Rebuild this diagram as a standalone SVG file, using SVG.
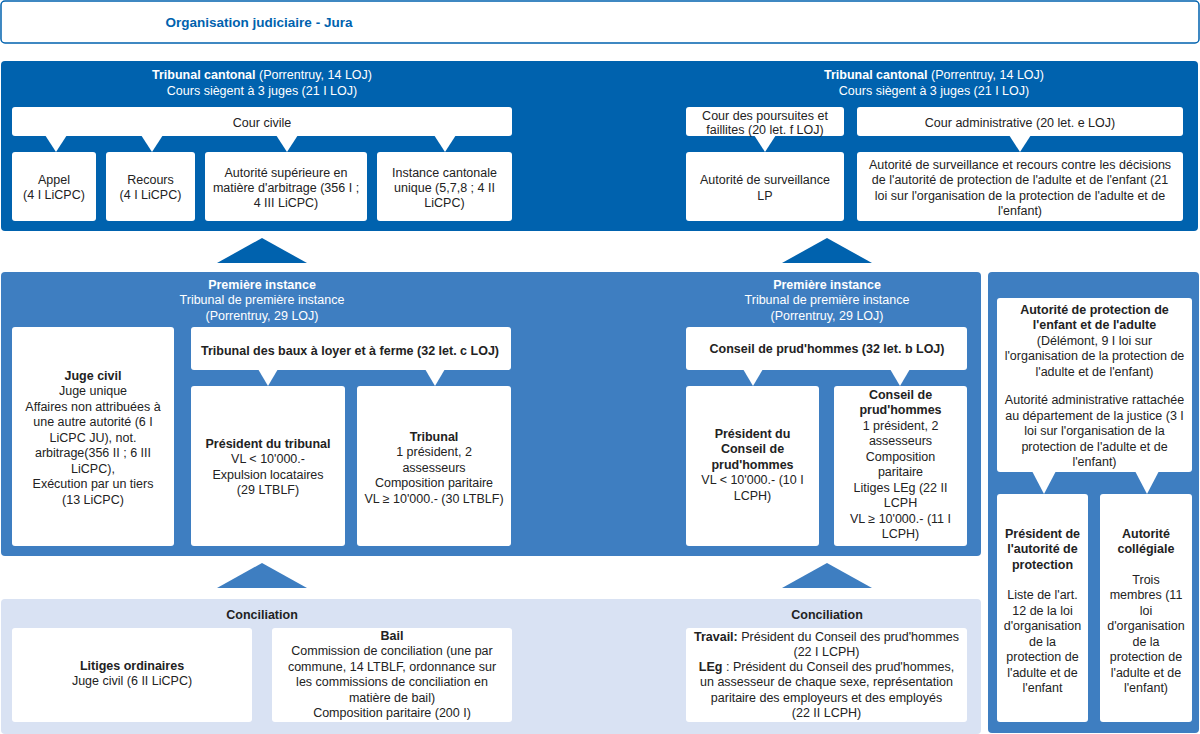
<svg xmlns="http://www.w3.org/2000/svg" width="1200" height="734" viewBox="0 0 1200 734">
<style>
text{font-family:"Liberation Sans",Arial,sans-serif;font-size:12.5px;text-anchor:middle;fill:#222}
.w{fill:#fff}
.b{font-weight:bold}
.box{fill:#fff}
.dark{fill:#0062AE}
.mid{fill:#3E7EC1}
.light{fill:#D9E2F3}
</style>
<rect width="1200" height="734" fill="#fff"/>
<g id="title">
<rect x="1" y="1" width="1198" height="42" rx="4" fill="#fff" stroke="#0062AE" stroke-width="1.5"/>
<text x="259" y="27" class="b" style="font-size:13.5px;fill:#0062AE">Organisation judiciaire - Jura</text>
</g>
<g id="sections">
<rect class="dark" x="1" y="61" width="1197" height="170" rx="4"/>
<rect class="mid" x="1" y="272" width="980" height="284" rx="4"/>
<rect class="mid" x="988" y="272" width="211" height="461" rx="4"/>
<rect class="light" x="1" y="599" width="980" height="135" rx="4"/>
</g>
<g id="connectors">
<polygon class="dark" points="217,263 307,263 262,238"/>
<polygon class="dark" points="782,263 872,263 827,238"/>
<polygon class="mid" points="217,588 307,588 262,563"/>
<polygon class="mid" points="782,588 872,588 827,563"/>
<g class="box">
<polygon points="45,135 67,135 56,152"/>
<polygon points="141,135 163,135 152,152"/>
<polygon points="276,135 298,135 287,152"/>
<polygon points="434,135 456,135 445,152"/>
<polygon points="754,135 776,135 765,152"/>
<polygon points="1009,135 1031,135 1020,152"/>
<polygon points="258,369 278,369 268,386"/>
<polygon points="425,369 445,369 435,386"/>
<polygon points="743,369 763,369 753,386"/>
<polygon points="890,369 910,369 900,386"/>
<polygon points="1032,471 1056,471 1044,494"/>
<polygon points="1135,471 1159,471 1147,494"/>
</g>
</g>
<g id="tc-left-head">
<text x="262" y="79" class="w"><tspan class="b">Tribunal cantonal</tspan> (Porrentruy, 14 LOJ)</text>
<text x="262" y="95" class="w">Cours siègent à 3 juges (21 I LOJ)</text>
</g>
<g id="tc-right-head">
<text x="934" y="79" class="w"><tspan class="b">Tribunal cantonal</tspan> (Porrentruy, 14 LOJ)</text>
<text x="934" y="95" class="w">Cours siègent à 3 juges (21 I LOJ)</text>
</g>
<g id="cour-civile">
<rect class="box" x="12" y="107" width="500" height="29" rx="3"/>
<text x="262" y="127">Cour civile</text>
</g>
<g id="appel">
<rect class="box" x="12" y="152" width="84" height="69" rx="3"/>
<text x="54" y="184">Appel</text>
<text x="54" y="199">(4 I LiCPC)</text>
</g>
<g id="recours">
<rect class="box" x="106" y="152" width="89" height="69" rx="3"/>
<text x="150.5" y="184">Recours</text>
<text x="150.5" y="199">(4 I LiCPC)</text>
</g>
<g id="autorite-superieure">
<rect class="box" x="205" y="152" width="162" height="69" rx="3"/>
<text x="286" y="176.5">Autorité supérieure en</text>
<text x="286" y="191.5">matière d'arbitrage (356 I ;</text>
<text x="286" y="207">4 III LiCPC)</text>
</g>
<g id="instance-cantonale">
<rect class="box" x="377" y="152" width="135" height="69" rx="3"/>
<text x="444.5" y="176.5">Instance cantonale</text>
<text x="444.5" y="191.5">unique (5,7,8 ; 4 II</text>
<text x="444.5" y="207">LiCPC)</text>
</g>
<g id="cour-poursuites">
<rect class="box" x="686" y="107" width="158" height="29" rx="3"/>
<text x="765" y="119.5">Cour des poursuites et</text>
<text x="765" y="134">faillites (20 let. f LOJ)</text>
</g>
<g id="autorite-surveillance-lp">
<rect class="box" x="686" y="152" width="158" height="69" rx="3"/>
<text x="765" y="183.5">Autorité de surveillance</text>
<text x="765" y="199.5">LP</text>
</g>
<g id="cour-administrative">
<rect class="box" x="857" y="107" width="326" height="29" rx="3"/>
<text x="1020" y="127">Cour administrative (20 let. e LOJ)</text>
</g>
<g id="autorite-surveillance-recours">
<rect class="box" x="857" y="152" width="326" height="69" rx="3"/>
<text x="1020" y="168.5">Autorité de surveillance et recours contre les décisions</text>
<text x="1020" y="184">de l'autorité de protection de l'adulte et de l'enfant (21</text>
<text x="1020" y="199.5">loi sur l'organisation de la protection de l'adulte et de</text>
<text x="1020" y="215">l'enfant)</text>
</g>
<g id="pi-left-head">
<text x="262" y="288.5" class="w b">Première instance</text>
<text x="262" y="304" class="w">Tribunal de première instance</text>
<text x="262" y="319.5" class="w">(Porrentruy, 29 LOJ)</text>
</g>
<g id="pi-right-head">
<text x="827" y="288.5" class="w b">Première instance</text>
<text x="827" y="304" class="w">Tribunal de première instance</text>
<text x="827" y="319.5" class="w">(Porrentruy, 29 LOJ)</text>
</g>
<g id="juge-civil">
<rect class="box" x="12" y="327" width="162" height="219" rx="3"/>
<text x="93" y="379.5" class="b">Juge civil</text>
<text x="93" y="395">Juge unique</text>
<text x="93" y="410.5">Affaires non attribuées à</text>
<text x="93" y="426">une autre autorité (6 I</text>
<text x="93" y="441.5">LiCPC JU), not.</text>
<text x="93" y="457">arbitrage(356 II ; 6 III</text>
<text x="93" y="472.5">LiCPC),</text>
<text x="93" y="488">Exécution par un tiers</text>
<text x="93" y="503.5">(13 LiCPC)</text>
</g>
<g id="tribunal-baux">
<rect class="box" x="191" y="327" width="320" height="43" rx="3"/>
<text x="350" y="354.5" class="b">Tribunal des baux à loyer et à ferme (32 let. c LOJ)</text>
</g>
<g id="president-tribunal">
<rect class="box" x="191" y="386" width="154" height="160" rx="3"/>
<text x="268" y="447.5" class="b">Président du tribunal</text>
<text x="268" y="463">VL &lt; 10'000.-</text>
<text x="268" y="478.5">Expulsion locataires</text>
<text x="268" y="494">(29 LTBLF)</text>
</g>
<g id="tribunal">
<rect class="box" x="357" y="386" width="154" height="160" rx="3"/>
<text x="434" y="440.5" class="b">Tribunal</text>
<text x="434" y="456">1 président, 2</text>
<text x="434" y="471.5">assesseurs</text>
<text x="434" y="487">Composition paritaire</text>
<text x="434" y="502.5">VL ≥ 10'000.- (30 LTBLF)</text>
</g>
<g id="conseil-prudhommes-head">
<rect class="box" x="686" y="327" width="281" height="43" rx="3"/>
<text x="827" y="352.5" class="b">Conseil de prud'hommes (32 let. b LOJ)</text>
</g>
<g id="president-conseil">
<rect class="box" x="686" y="386" width="133" height="160" rx="3"/>
<text x="752.5" y="437.5" class="b">Président du</text>
<text x="752.5" y="453" class="b">Conseil de</text>
<text x="752.5" y="468.5" class="b">prud'hommes</text>
<text x="752.5" y="484">VL &lt; 10'000.- (10 I</text>
<text x="752.5" y="499.5">LCPH)</text>
</g>
<g id="conseil-prudhommes">
<rect class="box" x="834" y="386" width="133" height="160" rx="3"/>
<text x="900.5" y="398.5" class="b">Conseil de</text>
<text x="900.5" y="414" class="b">prud'hommes</text>
<text x="900.5" y="429.5">1 président, 2</text>
<text x="900.5" y="445">assesseurs</text>
<text x="900.5" y="460.5">Composition</text>
<text x="900.5" y="476">paritaire</text>
<text x="900.5" y="491.5">Litiges LEg (22 II</text>
<text x="900.5" y="507">LCPH</text>
<text x="900.5" y="522.5">VL ≥ 10'000.- (11 I</text>
<text x="900.5" y="538">LCPH)</text>
</g>
<g id="autorite-protection">
<rect class="box" x="997" y="298" width="195" height="174" rx="3"/>
<text x="1094.5" y="313.5" class="b">Autorité de protection de</text>
<text x="1094.5" y="329" class="b">l'enfant et de l'adulte</text>
<text x="1094.5" y="344.5">(Délémont, 9 I loi sur</text>
<text x="1094.5" y="360">l'organisation de la protection de</text>
<text x="1094.5" y="375.5">l'adulte et de l'enfant)</text>
<text x="1094.5" y="404">Autorité administrative rattachée</text>
<text x="1094.5" y="419.5">au département de la justice (3 I</text>
<text x="1094.5" y="435">loi sur l'organisation de la</text>
<text x="1094.5" y="450.5">protection de l'adulte et de</text>
<text x="1094.5" y="466">l'enfant)</text>
</g>
<g id="president-autorite">
<rect class="box" x="997" y="494" width="91" height="228" rx="3"/>
<text x="1042.5" y="537.5" class="b">Président de</text>
<text x="1042.5" y="553" class="b">l'autorité de</text>
<text x="1042.5" y="568.5" class="b">protection</text>
<text x="1042.5" y="599">Liste de l'art.</text>
<text x="1042.5" y="614.5">12 de la loi</text>
<text x="1042.5" y="630">d'organisation</text>
<text x="1042.5" y="645.5">de la</text>
<text x="1042.5" y="661">protection de</text>
<text x="1042.5" y="676.5">l'adulte et de</text>
<text x="1042.5" y="692">l'enfant</text>
</g>
<g id="autorite-collegiale">
<rect class="box" x="1100" y="494" width="92" height="228" rx="3"/>
<text x="1146" y="537.5" class="b">Autorité</text>
<text x="1146" y="553" class="b">collégiale</text>
<text x="1146" y="583.5">Trois</text>
<text x="1146" y="599">membres (11</text>
<text x="1146" y="614.5">loi</text>
<text x="1146" y="630">d'organisation</text>
<text x="1146" y="645.5">de la</text>
<text x="1146" y="661">protection de</text>
<text x="1146" y="676.5">l'adulte et de</text>
<text x="1146" y="692">l'enfant)</text>
</g>
<g id="conciliation-left-head">
<text x="262" y="618.5" class="b">Conciliation</text>
</g>
<g id="conciliation-right-head">
<text x="827" y="618.5" class="b">Conciliation</text>
</g>
<g id="litiges-ordinaires">
<rect class="box" x="12" y="628" width="240" height="94" rx="3"/>
<text x="132" y="669.5" class="b">Litiges ordinaires</text>
<text x="132" y="685">Juge civil (6 II LiCPC)</text>
</g>
<g id="bail">
<rect class="box" x="272" y="628" width="240" height="94" rx="3"/>
<text x="392" y="639.5" class="b">Bail</text>
<text x="392" y="655">Commission de conciliation (une par</text>
<text x="392" y="670.5">commune, 14 LTBLF, ordonnance sur</text>
<text x="392" y="686">les commissions de conciliation en</text>
<text x="392" y="701.5">matière de bail)</text>
<text x="392" y="717">Composition paritaire (200 I)</text>
</g>
<g id="travail">
<rect class="box" x="686" y="628" width="281" height="94" rx="3"/>
<text x="826.5" y="640.5"><tspan class="b">Travail:</tspan> Président du Conseil des prud'hommes</text>
<text x="826.5" y="655.5">(22 I LCPH)</text>
<text x="826.5" y="670.5"><tspan class="b">LEg</tspan> : Président du Conseil des prud'hommes,</text>
<text x="826.5" y="686">un assesseur de chaque sexe, représentation</text>
<text x="826.5" y="701.5">paritaire des employeurs et des employés</text>
<text x="826.5" y="717">(22 II LCPH)</text>
</g>
</svg>
